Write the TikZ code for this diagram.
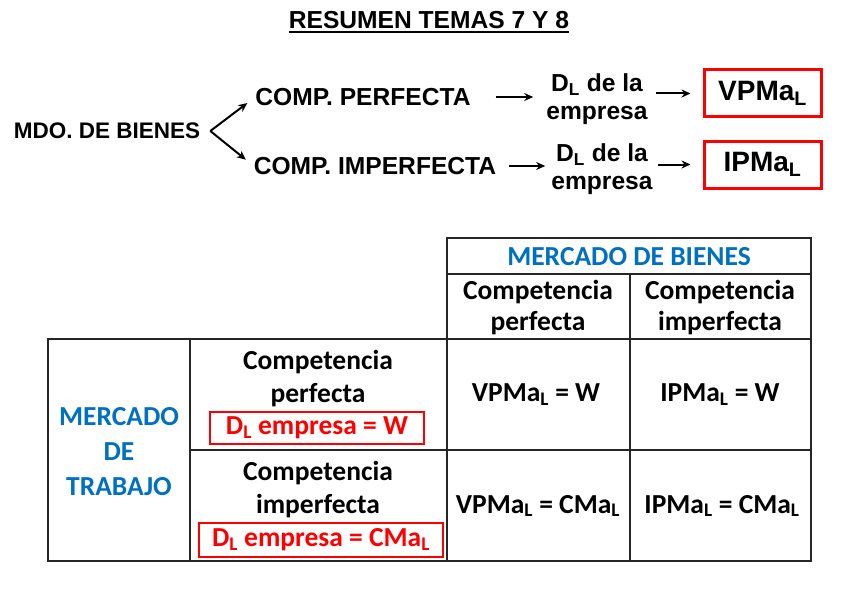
\documentclass[tikz,border=0pt]{standalone}
\usepackage{fontspec}
\usetikzlibrary{arrows.meta}
\newfontfamily\arialf{Liberation Sans}
\newfontfamily\calibf{Carlito}
\definecolor{tblue}{HTML}{0070C0}
\definecolor{tred}{HTML}{FF0000}
\tikzset{
  flow/.style={font=\arialf\bfseries\fontsize{24.6}{28}\selectfont, inner sep=0pt, align=center},
  cell/.style={font=\calibf\bfseries\fontsize{27.5}{33}\selectfont, inner sep=0pt, align=center},
  redbox/.style={draw=tred, line width=3pt, inner sep=0pt},
  arr/.style={-{Stealth[length=9pt,width=8pt]}, line width=2pt},
  rule/.style={line width=1.3pt, draw=black!85}
}
\begin{document}
\begin{tikzpicture}[x=1pt,y=-1pt]
\useasboundingbox (0,0) rectangle (848,599);
% title
\node[flow] (title) at (429,20) {RESUMEN TEMAS 7 Y 8};
\draw[line width=1.8pt] ([yshift=-3pt]title.south west) -- ([yshift=-3pt]title.south east);
% market of goods
\node[flow, font=\arialf\bfseries\fontsize{22.5}{26}\selectfont] (mdo) at (107,131) {MDO. DE BIENES};
\coordinate (fork) at ([xshift=10pt]mdo.east);
\node[flow] (cp) at (363,97) {COMP. PERFECTA};
\node[flow] (ci) at (375,166) {COMP. IMPERFECTA};
\node[flow] (d1) at (597,99) {D\textsubscript{L} de la\\empresa};
\node[flow] (d2) at (602,169) {D\textsubscript{L} de la\\empresa};
\node[flow, redbox, minimum width=117pt, minimum height=47pt, font=\arialf\bfseries\fontsize{28}{30}\selectfont] (vp) at (762.5,93.5) {VPMa\textsubscript{L}};
\node[flow, redbox, minimum width=117pt, minimum height=47pt, font=\arialf\bfseries\fontsize{28}{30}\selectfont] (ip) at (762.5,164.5) {IPMa\textsubscript{L}};
\draw[arr, shorten >=10pt] (fork) -- (cp.west);
\draw[arr, shorten >=10pt] (fork) -- (ci.west);
\draw[arr] ([xshift=25pt]cp.east) -- ([xshift=-13pt]cp.east -| d1.west);
\draw[arr] ([xshift=13pt]ci.east) -- ([xshift=-6pt]ci.east -| d2.west);
\draw[arr] ([xshift=8pt]d1.east |- vp.west) -- ([xshift=-12pt]vp.west);
\draw[arr] ([xshift=5pt]d2.east |- ip.west) -- ([xshift=-12pt]ip.west);
% table
\draw[rule] (447,238) rectangle (811,274);
\draw[rule] (447,274) rectangle (811,561);
\draw[rule] (48,339) rectangle (811,561);
\draw[rule] (447,339) -- (811,339);
\draw[rule] (190,339) -- (190,561);
\draw[rule] (630,274) -- (630,561);
\draw[rule] (190,450) -- (811,450);
\node[cell, text=tblue] (mb) at (629,257) {MERCADO DE BIENES};
\node[cell, font=\calibf\bfseries\fontsize{27.5}{31}\selectfont] (hcp) at (538,308) {Competencia\\perfecta};
\node[cell, font=\calibf\bfseries\fontsize{27.5}{31}\selectfont] (hci) at (720,308) {Competencia\\imperfecta};
\node[cell, text=tblue, font=\calibf\bfseries\fontsize{27.5}{35}\selectfont] (mt) at (119,452) {MERCADO\\DE\\TRABAJO};
\node[cell] (tcp) at (318,379) {Competencia\\perfecta};
\node[cell, redbox, line width=2.5pt, text=tred, minimum width=214pt, minimum height=32pt] (dw) at (317,428) {D\textsubscript{L} empresa = W};
\node[cell] (tci) at (318,490) {Competencia\\imperfecta};
\node[cell, redbox, line width=2.5pt, text=tred, minimum width=244pt, minimum height=34pt] (dc) at (321,540) {D\textsubscript{L} empresa = CMa\textsubscript{L}};
\node[cell] (v1) at (536,395) {VPMa\textsubscript{L} = W};
\node[cell] (v2) at (720,395) {IPMa\textsubscript{L} = W};
\node[cell] (v3) at (538,506) {VPMa\textsubscript{L} = CMa\textsubscript{L}};
\node[cell] (v4) at (722,506) {IPMa\textsubscript{L} = CMa\textsubscript{L}};
\end{tikzpicture}
\end{document}
